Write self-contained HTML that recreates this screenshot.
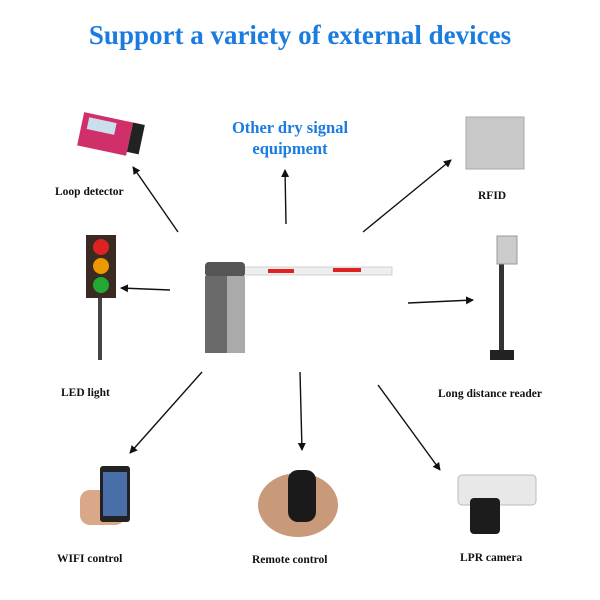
<!DOCTYPE html>
<html><head><style>
body{margin:0;width:600px;height:600px;background:#fff;overflow:hidden;font-family:"Liberation Serif",serif}
.t{position:absolute;font-weight:bold;font-size:11.5px;color:#111;white-space:nowrap}
</style></head><body>
<div style="position:absolute;left:0;width:600px;top:20px;text-align:center;font-weight:bold;font-size:27px;color:#1a7be0">Support a variety of external devices</div>
<div style="position:absolute;left:210px;width:160px;top:117px;text-align:center;font-weight:bold;font-size:16.5px;line-height:21px;color:#1a7be0">Other dry signal<br>equipment</div>
<div class="t" style="left:55px;top:186px">Loop detector</div>
<div class="t" style="left:478px;top:190px">RFID</div>
<div class="t" style="left:61px;top:387px">LED light</div>
<div class="t" style="left:438px;top:388px">Long distance reader</div>
<div class="t" style="left:57px;top:553px">WIFI control</div>
<div class="t" style="left:252px;top:554px">Remote control</div>
<div class="t" style="left:460px;top:552px">LPR camera</div>
<svg width="600" height="600" style="position:absolute;left:0;top:0">
<defs><marker id="a" markerWidth="8" markerHeight="8" refX="7" refY="4" orient="auto" markerUnits="userSpaceOnUse"><path d="M0,0L8,4L0,8z" fill="#111"/></marker></defs>
<g stroke="#111" stroke-width="1.4" marker-end="url(#a)">
<line x1="178" y1="232" x2="133" y2="167"/>
<line x1="286" y1="224" x2="285" y2="170"/>
<line x1="363" y1="232" x2="451" y2="160"/>
<line x1="170" y1="290" x2="121" y2="288"/>
<line x1="408" y1="303" x2="473" y2="300"/>
<line x1="202" y1="372" x2="130" y2="453"/>
<line x1="300" y1="372" x2="302" y2="450"/>
<line x1="378" y1="385" x2="440" y2="470"/>
</g>
<!-- barrier -->
<rect x="244" y="267" width="148" height="8" fill="#eee" stroke="#bbb" stroke-width="0.6"/>
<rect x="268" y="269" width="26" height="4" fill="#d22"/><rect x="333" y="268" width="28" height="4" fill="#d22"/>
<rect x="205" y="262" width="40" height="15" rx="4" fill="#555"/>
<rect x="205" y="276" width="22" height="77" fill="#6a6a6a"/>
<rect x="227" y="276" width="18" height="77" fill="#aaa"/>
<!-- loop detector -->
<g transform="rotate(12 110 135)"><rect x="80" y="118" width="50" height="34" fill="#d0306a"/><rect x="86" y="122" width="28" height="12" fill="#cde"/><rect x="130" y="118" width="12" height="30" fill="#222"/></g>
<!-- traffic light -->
<rect x="98" y="296" width="4" height="64" fill="#444"/>
<rect x="86" y="235" width="30" height="63" fill="#3a2a22"/>
<circle cx="101" cy="247" r="8" fill="#d22"/><circle cx="101" cy="266" r="8" fill="#e90"/><circle cx="101" cy="285" r="8" fill="#2a3"/>
<!-- RFID -->
<rect x="466" y="117" width="58" height="52" fill="#c8c8c8" stroke="#aaa"/>
<!-- long distance reader -->
<rect x="499" y="262" width="5" height="90" fill="#333"/>
<rect x="497" y="236" width="20" height="28" fill="#ccc" stroke="#999"/>
<rect x="490" y="350" width="24" height="10" fill="#222"/>
<!-- phone -->
<rect x="80" y="490" width="45" height="35" rx="10" fill="#d9a888"/>
<rect x="100" y="466" width="30" height="56" rx="3" fill="#222"/><rect x="103" y="472" width="24" height="44" fill="#4a6fa8"/>
<!-- remote -->
<ellipse cx="298" cy="505" rx="40" ry="32" fill="#c99a7a"/>
<rect x="288" y="470" width="28" height="52" rx="10" fill="#1a1a1a"/>
<!-- camera -->
<rect x="458" y="475" width="78" height="30" rx="4" fill="#e8e8e8" stroke="#bbb"/>
<rect x="470" y="498" width="30" height="36" rx="4" fill="#1c1c1c"/>
</svg>
</body></html>
